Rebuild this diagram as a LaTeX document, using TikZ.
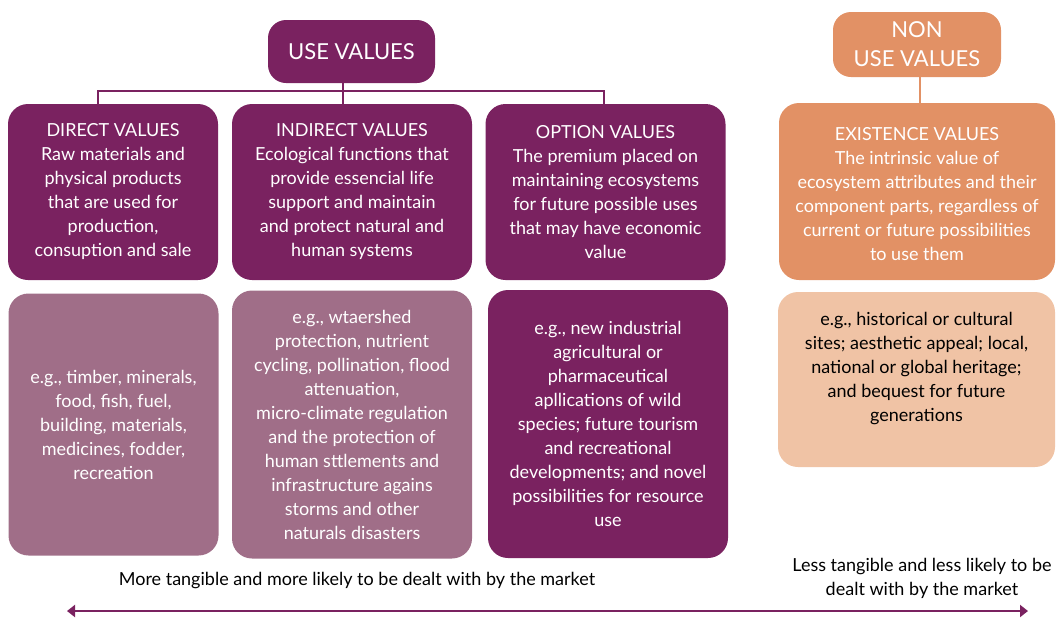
\documentclass[tikz,border=0pt]{standalone}
\usepackage{fontspec}
\setmainfont{Lato}
\usetikzlibrary{arrows.meta}
\definecolor{dpurp}{HTML}{7A2260}
\definecolor{lpurp}{HTML}{A06E88}
\definecolor{orng}{HTML}{E29165}
\definecolor{peach}{HTML}{F0C3A5}
\begin{document}
\begin{tikzpicture}[x=1pt,y=-1pt,
  box/.style={rounded corners=20pt, inner sep=0pt, align=center, text=white,
    font=\fontsize{18}{24}\selectfont},
  headbox/.style={box, rounded corners=18pt, font=\fontsize{22}{29}\selectfont},
  conn/.style={line width=2.5pt},
  note/.style={inner sep=0pt, align=center, font=\fontsize{18}{24}\selectfont}]
\useasboundingbox (0,0) rectangle (1057,619);

% header boxes
\node[headbox, fill=dpurp, minimum width=167pt, minimum height=63pt] (use) at (351.5,51.5) {USE VALUES};
\node[headbox, fill=orng, minimum width=168pt, minimum height=65pt] (nonuse) at (917,44.5) {NON\\USE VALUES};

% top boxes
\node[box, fill=dpurp, minimum width=210pt, minimum height=176pt] (direct) at (113,192) {};
\node[box, fill=dpurp, minimum width=240pt, minimum height=176pt] (indirect) at (352,192) {};
\node[box, fill=dpurp, minimum width=240pt, minimum height=176pt] (option) at (605.5,192) {};
\node[box, fill=orng, minimum width=276pt, minimum height=177pt] (exist) at (917,191.5) {};

\node[box] (directt) at (113,192) {DIRECT VALUES\\Raw materials and\\physical products\\that are used for\\production,\\consuption and sale};
\node[box] (indirectt) at (352,192) {INDIRECT VALUES\\Ecological functions that\\provide essencial life\\support and maintain\\and protect natural and\\human systems};
\node[box] (optiont) at (605.5,192) {OPTION VALUES\\The premium placed on\\maintaining ecosystems\\for future possible uses\\that may have economic\\value};
\node[box] (existt) at (917,194) {EXISTENCE VALUES\\The intrinsic value of\\ecosystem attributes and their\\component parts, regardless of\\current or future possibilities\\to use them};

% lower boxes
\node[box, fill=lpurp, minimum width=210pt, minimum height=262pt] (directl) at (113.5,424.5) {e.g., timber, minerals,\\food, fish, fuel,\\building, materials,\\medicines, fodder,\\recreation};
\node[box, fill=lpurp, minimum width=240pt, minimum height=268pt] (indirectl) at (352,424.5) {e.g., wtaershed\\protection, nutrient\\cycling, pollination, flood\\attenuation,\\micro-climate regulation\\and the protection of\\human sttlements and\\infrastructure agains\\storms and other\\naturals disasters};
\node[box, fill=dpurp, minimum width=240pt, minimum height=268pt] (optionl) at (608,424) {e.g., new industrial\\agricultural or\\pharmaceutical\\apllications of wild\\species; future tourism\\and recreational\\developments; and novel\\possibilities for resource\\use};
\node[box, fill=peach, minimum width=277pt, minimum height=175pt] (existl) at (916.5,379.5) {};
\node[box, text=black] (existlt) at (916.5,369) {e.g., historical or cultural\\sites; aesthetic appeal; local,\\national or global heritage;\\and bequest for future\\generations};

% connectors
\coordinate (hub) at (343,91);
\draw[conn, dpurp] (use.south -| hub) -- (indirect.north -| hub);
\draw[conn, dpurp] (direct.north -| 98,0) |- (hub) -| (option.north -| 604,0);
\draw[conn, orng] (nonuse.south -| 920,0) -- (exist.north -| 920,0);

% bottom notes and arrow
\node[note] (more) at (357,581) {More tangible and more likely to be dealt with by the market};
\node[note] (less) at (922,578) {Less tangible and less likely to be\\dealt with by the market};
\coordinate (aL) at (67,611);
\coordinate (aR) at (1028,611);
\draw[dpurp, line width=2pt, {Triangle[length=8pt,width=12pt]}-{Triangle[length=8pt,width=12pt]}] (aL) -- (aR);
\end{tikzpicture}
\end{document}
